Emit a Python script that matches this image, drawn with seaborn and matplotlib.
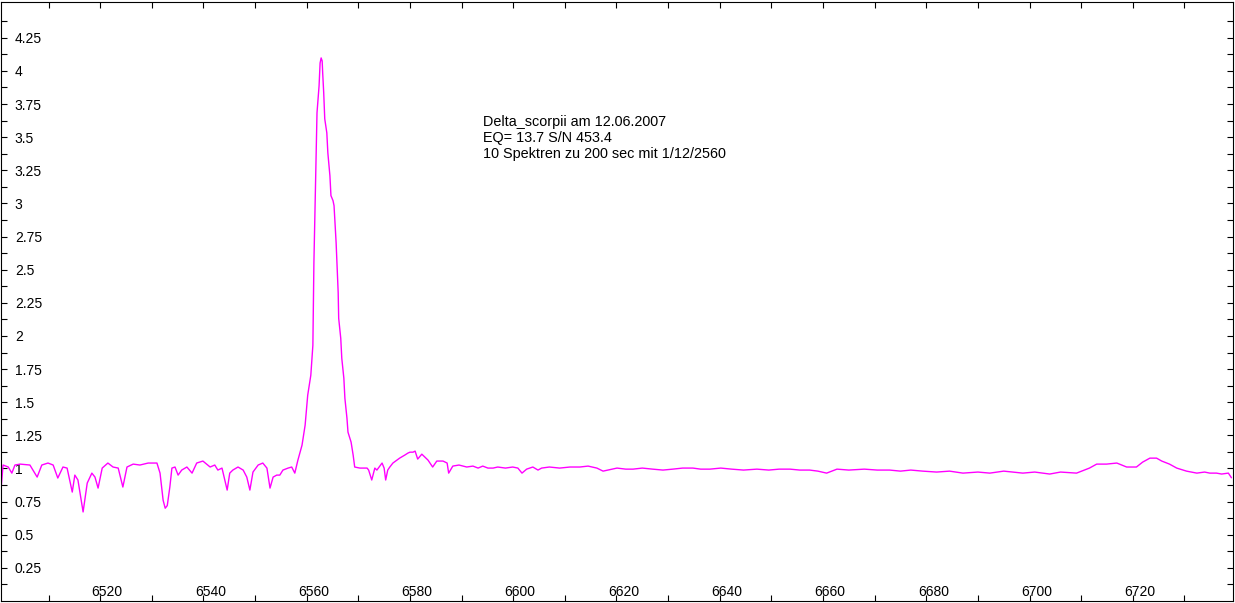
import numpy as np
import matplotlib
matplotlib.use('Agg')
import matplotlib.pyplot as plt
import matplotlib.transforms as mtransforms
from matplotlib.ticker import FixedLocator, FuncFormatter
import seaborn as sns

# spectrum (wavelength in Angstrom, relative flux)
wavelength = [
    6500.8, 6501.2, 6502.2, 6502.9, 6503.5, 6504.5, 6506.4, 6507.8, 6508.7, 6509.9,
    6510.9, 6511.8, 6512.8, 6513.6, 6514.6, 6515.1, 6515.7, 6516.7, 6517.5, 6518.4,
    6519.0, 6519.6, 6520.4, 6521.5, 6522.5, 6523.5, 6524.4, 6525.2, 6526.4, 6527.7,
    6529.3, 6531.0, 6531.6, 6532.2, 6532.6, 6533.0, 6533.5, 6533.9, 6534.5, 6535.1,
    6535.8, 6536.8, 6537.8, 6538.7, 6539.9, 6541.3, 6542.2, 6542.8, 6543.6, 6544.6,
    6545.1, 6545.7, 6546.7, 6547.7, 6548.4, 6549.0, 6549.6, 6550.6, 6551.5, 6552.3,
    6552.9, 6553.5, 6554.2, 6554.8, 6555.4, 6556.4, 6557.1, 6557.7, 6558.3, 6559.1,
    6559.7, 6560.2, 6560.8, 6561.2, 6561.4, 6561.6, 6561.8, 6562.0, 6562.4, 6562.6,
    6562.8, 6563.0, 6563.1, 6563.3, 6563.5, 6563.9, 6564.1, 6564.5, 6564.7, 6565.1,
    6565.3, 6565.7, 6565.9, 6566.1, 6566.2, 6566.6, 6566.8, 6567.2, 6567.4, 6567.8,
    6568.0, 6568.6, 6569.0, 6569.3, 6570.3, 6571.7, 6572.0, 6572.6, 6573.2, 6573.6,
    6574.6, 6575.0, 6575.3, 6575.7, 6576.1, 6576.7, 6578.0, 6579.0, 6579.6, 6580.0,
    6580.6, 6581.0, 6581.5, 6582.3, 6583.5, 6584.4, 6585.2, 6586.4, 6587.2, 6587.5,
    6588.3, 6589.5, 6591.0, 6592.2, 6593.2, 6594.1, 6595.1, 6596.1, 6597.0, 6598.5,
    6599.9, 6600.9, 6601.7, 6602.6, 6603.8, 6604.8, 6605.5, 6607.0, 6609.0, 6611.0,
    6612.9, 6614.5, 6616.2, 6617.4, 6620.1, 6621.8, 6623.2, 6625.0, 6627.0, 6629.0,
    6630.9, 6632.8, 6634.8, 6636.3, 6638.1, 6640.2, 6642.3, 6644.6, 6647.2, 6649.5,
    6651.5, 6653.6, 6655.5, 6657.4, 6659.0, 6660.7, 6662.7, 6665.0, 6668.0, 6670.5,
    6672.9, 6675.0, 6677.0, 6679.3, 6682.0, 6684.5, 6687.1, 6690.0, 6692.3, 6695.0,
    6698.7, 6701.0, 6703.9, 6706.0, 6709.1, 6711.6, 6713.0, 6714.9, 6716.9, 6718.8,
    6720.7, 6721.9, 6723.3, 6724.6, 6725.6, 6727.1, 6728.5, 6730.4, 6732.4, 6733.9,
    6734.9, 6736.2, 6737.2, 6738.5, 6739.1,
]
flux = [
    0.840, 1.026, 1.011, 0.965, 1.026, 1.033, 1.026, 0.935, 1.026, 1.041,
    1.026, 0.928, 1.011, 1.003, 0.822, 0.950, 0.913, 0.672, 0.890, 0.965,
    0.935, 0.852, 1.003, 1.041, 1.011, 1.003, 0.860, 1.011, 1.033, 1.026,
    1.041, 1.041, 0.965, 0.760, 0.700, 0.720, 0.860, 1.003, 1.011, 0.950,
    0.988, 1.011, 0.965, 1.041, 1.056, 1.011, 1.026, 0.988, 1.003, 0.837,
    0.965, 0.988, 1.011, 0.988, 0.935, 0.837, 0.973, 1.026, 1.041, 1.003,
    0.852, 0.935, 0.950, 0.950, 0.988, 1.003, 1.011, 0.965, 1.063, 1.176,
    1.327, 1.553, 1.703, 1.929, 2.554, 2.931, 3.307, 3.684, 3.887, 4.060,
    4.098, 4.075, 3.985, 3.834, 3.638, 3.533, 3.382, 3.209, 3.059, 3.021,
    2.983, 2.705, 2.509, 2.328, 2.133, 1.982, 1.831, 1.681, 1.530, 1.380,
    1.274, 1.199, 1.101, 1.011, 1.003, 1.003, 0.988, 0.913, 1.003, 0.988,
    1.041, 1.003, 0.913, 0.988, 1.011, 1.041, 1.078, 1.101, 1.116, 1.123,
    1.123, 1.131, 1.071, 1.108, 1.063, 1.011, 1.056, 1.056, 1.041, 0.965,
    1.018, 1.026, 1.011, 1.018, 1.003, 1.018, 1.003, 1.003, 1.011, 1.003,
    1.011, 1.003, 0.965, 0.995, 1.011, 0.988, 1.003, 1.011, 1.003, 1.011,
    1.011, 1.018, 1.003, 0.980, 1.003, 0.995, 0.995, 1.003, 0.995, 0.988,
    0.995, 1.003, 1.003, 0.995, 0.995, 1.003, 0.995, 0.988, 0.995, 0.988,
    0.995, 0.995, 0.988, 0.988, 0.980, 0.965, 0.995, 0.988, 0.995, 0.988,
    0.988, 0.980, 0.988, 0.980, 0.973, 0.980, 0.965, 0.973, 0.965, 0.980,
    0.965, 0.973, 0.958, 0.973, 0.965, 1.003, 1.033, 1.033, 1.041, 1.011,
    1.011, 1.048, 1.078, 1.078, 1.056, 1.033, 1.003, 0.980, 0.965, 0.973,
    0.965, 0.965, 0.958, 0.965, 0.930,
]

x_labels = [6520, 6540, 6560, 6580, 6600, 6620, 6640, 6660, 6680, 6700, 6720]
x_minor = [6510, 6530, 6550, 6570, 6590, 6610, 6630, 6650, 6670, 6690, 6710, 6730]
y_labels = [0.25, 0.5, 0.75, 1, 1.25, 1.5, 1.75, 2, 2.25, 2.5, 2.75, 3, 3.25, 3.5, 3.75, 4, 4.25]
y_minor = [0.125 + 0.25 * i for i in range(18)]

caption = ["Delta_scorpii am 12.06.2007",
           "EQ= 13.7 S/N 453.4",
           "10 Spektren zu 200 sec mit 1/12/2560"]

sns.set_style('ticks')
plt.rcParams['font.family'] = ['Liberation Sans', 'DejaVu Sans']

fig = plt.figure(figsize=(12.35, 6.03), dpi=100)
ax = fig.add_axes([1 / 1235, 2 / 603, 1232 / 1235, 599 / 603])

sns.lineplot(x=wavelength, y=flux, ax=ax, color='#ff00ff', linewidth=1.0,
             sort=False, estimator=None)

ax.set_xlim(6500.8, 6739.4)
ax.set_ylim(0, 4.52)

ax.xaxis.set_major_locator(FixedLocator(x_labels))
ax.xaxis.set_minor_locator(FixedLocator(x_minor))
ax.yaxis.set_major_locator(FixedLocator(y_labels))
ax.yaxis.set_minor_locator(FixedLocator(y_minor))
ax.yaxis.set_major_formatter(FuncFormatter(lambda v, p: f'{v:g}'))
ax.xaxis.set_major_formatter(FuncFormatter(lambda v, p: f'{v:g}'))

ax.tick_params(which='both', direction='in', length=4.5, width=0.8, color='black',
               top=True, right=True, labelsize=10, labelcolor='black')
ax.tick_params(axis='y', which='major', pad=-10)
ax.tick_params(axis='x', which='major', pad=-1.5)
for lbl in ax.get_yticklabels():
    lbl.set_horizontalalignment('left')
shift = mtransforms.ScaledTranslation(7 / 100, 0, fig.dpi_scale_trans)
for lbl in ax.get_xticklabels():
    lbl.set_verticalalignment('bottom')
    lbl.set_transform(lbl.get_transform() + shift)

for sp in ax.spines.values():
    sp.set_visible(True)
    sp.set_color('black')
    sp.set_linewidth(0.8)

ax.text(6594.1, 3.665, "\n".join(caption), ha='left', va='top', fontsize=10.4,
        linespacing=1.18, color='black')

ax.set_xlabel('')
ax.set_ylabel('')
fig.savefig('out.png', dpi=100, facecolor='white')
